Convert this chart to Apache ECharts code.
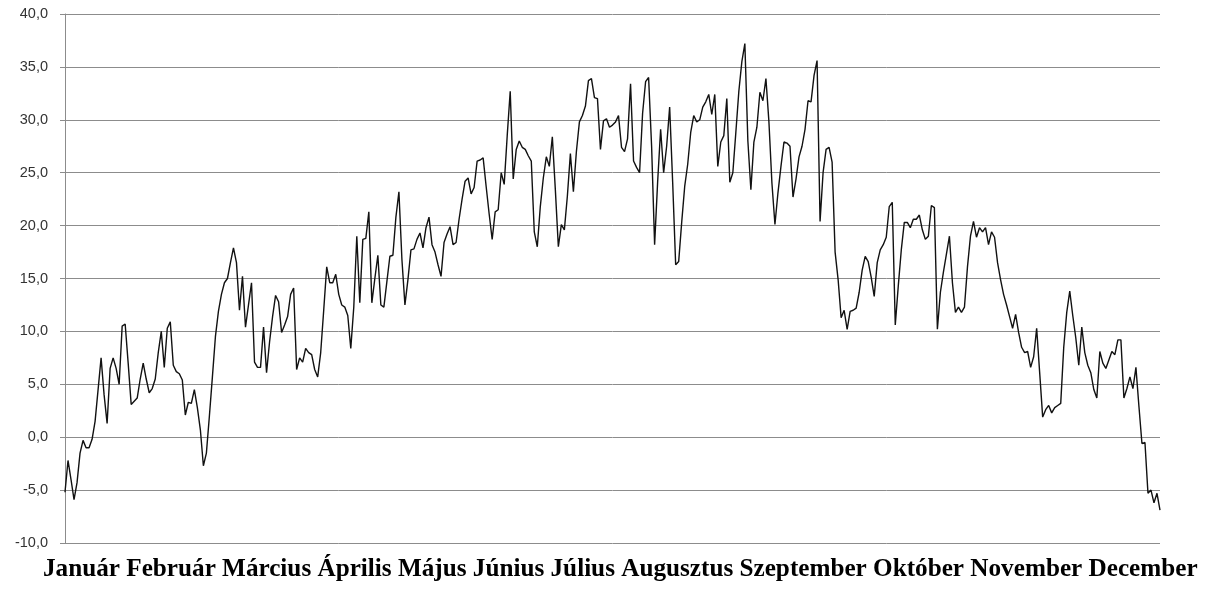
<!DOCTYPE html>
<html>
<head>
<meta charset="utf-8">
<script src="https://cdn.jsdelivr.net/npm/echarts@6/dist/echarts.min.js"></script>
<style>
html,body{margin:0;padding:0;background:#fff;}
#chart{width:1206px;height:595px;}
</style>
</head>
<body>
<div id="chart"></div>
<script>
// Month names shown under the chart
const months = ['Január','Február','Március','Április','Május','Június','Július','Augusztus','Szeptember','Október','November','December'];

// Daily values per month
const jan = [-5.2,-2.2,-4.0,-5.9,-4.3,-1.5,-0.3,-1.0,-1.0,-0.2,1.5,4.5,7.5,4.0,1.3,6.5,7.5,6.5,5.0,10.5,10.7,7.0,3.1,3.4,3.7,5.5,7.0,5.5,4.2,4.6,5.5];
const feb = [8.0,10.0,6.6,10.3,10.9,6.8,6.2,6.0,5.4,2.1,3.3,3.2,4.5,2.8,0.7,-2.7,-1.5,2.0,5.7,9.5,11.9,13.5,14.6,15.0,16.5,17.9,16.5,12.0];
const mar = [15.2,10.4,12.5,14.6,7.1,6.6,6.6,10.4,6.1,9.0,11.4,13.4,12.8,9.9,10.6,11.4,13.5,14.1,6.4,7.5,7.1,8.4,8.0,7.8,6.4,5.7,8.0,12.0,16.1,14.6,14.6];
const apr = [15.4,13.5,12.5,12.3,11.5,8.4,12.3,19.0,12.7,18.7,18.8,21.3,12.7,15.0,17.2,12.5,12.3,14.7,17.1,17.2,20.8,23.2,16.8,12.5,14.9,17.7,17.8,18.7,19.3,17.9];
const may = [19.8,20.8,18.2,17.5,16.3,15.2,18.4,19.2,19.9,18.2,18.4,20.6,22.5,24.2,24.5,23.0,23.6,26.1,26.2,26.4,23.7,21.1,18.7,21.3,21.5,25.0,23.9,28.5,32.7,24.4,27.2];
const jun = [28.0,27.4,27.2,26.6,26.1,19.4,18.0,21.8,24.5,26.5,25.6,28.4,23.4,18.0,20.1,19.6,22.8,26.8,23.2,27.0,29.8,30.4,31.3,33.7,33.9,32.1,32.0,27.2,29.9,30.1];
const jul = [29.3,29.5,29.8,30.4,27.4,27.0,28.2,33.4,26.1,25.5,25.0,30.6,33.6,34.0,27.5,18.2,24.1,29.1,25.0,27.5,31.2,24.1,16.3,16.6,20.3,23.7,25.8,28.8,30.4,29.8,30.0];
const aug = [31.2,31.7,32.4,30.5,32.4,25.6,27.9,28.5,32.0,24.1,25.0,28.8,32.7,35.5,37.2,28.0,23.4,27.9,29.3,32.6,31.8,33.9,29.8,24.0,20.1,23.1,25.6,27.9,27.8,27.5,22.7];
const sep = [24.4,26.5,27.5,29.1,31.8,31.7,34.2,35.6,20.4,25.0,27.2,27.4,26.0,17.5,14.9,11.3,12.0,10.2,11.9,12.0,12.2,13.7,15.8,17.1,16.6,15.1,13.3,16.5,17.7,18.2];
const oct = [18.9,21.8,22.2,10.6,14.3,17.7,20.3,20.3,19.8,20.6,20.6,21.0,19.6,18.7,19.0,21.9,21.7,10.2,13.7,15.6,17.3,19.0,14.6,11.8,12.3,11.8,12.3,16.1,19.0,20.4,18.9];
const nov = [19.8,19.4,19.8,18.2,19.4,18.9,16.5,14.9,13.5,12.5,11.4,10.3,11.6,9.9,8.5,8.0,8.1,6.6,7.6,10.3,6.1,1.9,2.6,3.0,2.3,2.8,3.0,3.2,8.5,11.8];
const dec = [13.8,11.5,9.4,6.8,10.4,8.0,6.8,6.1,4.5,3.7,8.1,7.0,6.5,7.3,8.1,7.8,9.2,9.2,3.7,4.6,5.7,4.6,6.6,2.9,-0.6,-0.5,-5.3,-5.0,-6.2,-5.3,-6.9];

// Y axis range
const yMin = -10, yMax = 40, yStep = 5;

const values = [].concat(jan,feb,mar,apr,may,jun,jul,aug,sep,oct,nov,dec);
const days = values.map((v,i) => i + 1);

const chart = echarts.init(document.getElementById('chart'), null, {renderer:'canvas'});
chart.setOption({
  animation: false,
  backgroundColor: '#ffffff',
  title: {
    text: months.join(' '),
    left: 38,
    bottom: 8,
    textStyle: {
      fontFamily: 'Liberation Serif',
      fontWeight: 'bold',
      fontSize: 25.2,
      color: '#000000'
    }
  },
  grid: { left: 65, right: 46, top: 14, bottom: 52, containLabel: false },
  xAxis: {
    type: 'category',
    data: days,
    boundaryGap: false,
    axisLine: { show: false },
    axisTick: { show: false },
    axisLabel: { show: false },
    splitLine: { show: false }
  },
  yAxis: {
    type: 'value',
    min: yMin, max: yMax, interval: yStep,
    axisLine: { show: true, lineStyle: { color: '#8c8c8c', width: 1 } },
    axisTick: { show: true, length: 5, lineStyle: { color: '#8c8c8c' } },
    axisLabel: {
      color: '#333333',
      fontFamily: 'Liberation Sans',
      fontSize: 14.5,
      margin: 17,
      formatter: v => v.toFixed(1).replace('.', ',')
    },
    splitLine: { show: true, lineStyle: { color: '#8c8c8c', width: 1 } }
  },
  series: [{
    type: 'line',
    data: values,
    symbol: 'none',
    lineStyle: { color: '#111111', width: 1.4 }
  }]
});
</script>
</body>
</html>
